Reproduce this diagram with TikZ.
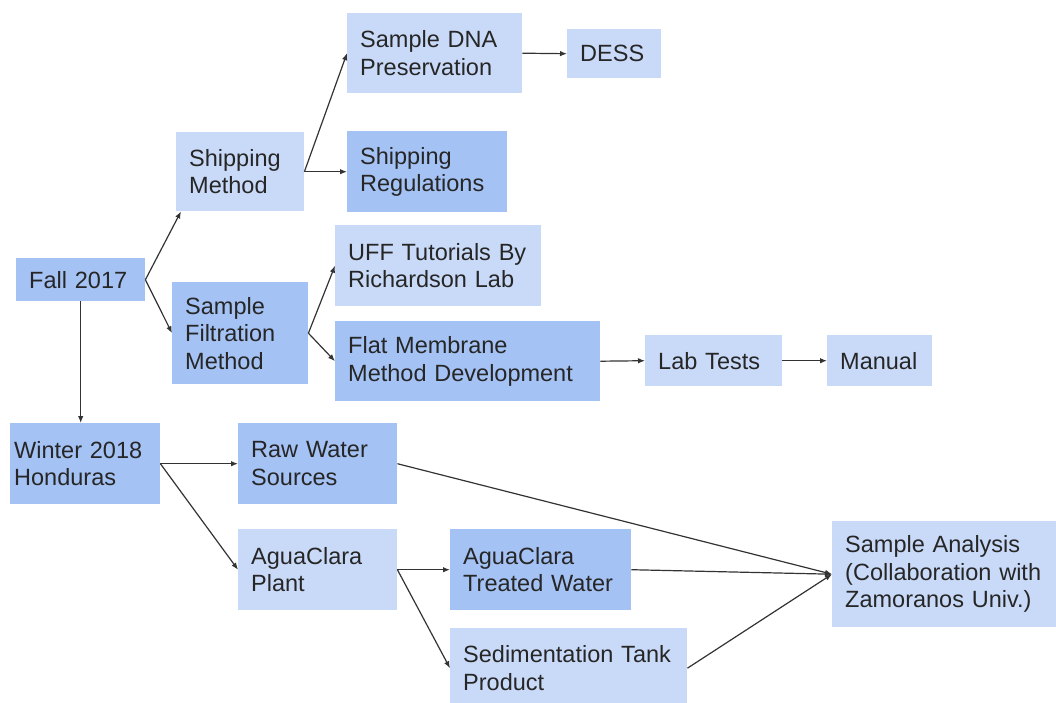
\documentclass[tikz,border=0pt]{standalone}
\usepackage{fontspec}
\setmainfont{Liberation Sans}
\usetikzlibrary{arrows.meta,calc}
\definecolor{lightbox}{HTML}{C9DAF8}
\definecolor{darkbox}{HTML}{A4C2F4}
\definecolor{txt}{HTML}{262626}
\definecolor{arr}{HTML}{333333}
\tikzset{
  bx/.style n args={3}{draw=none, fill=#3, anchor=north west, inner ysep=0pt,
    inner xsep=13pt, minimum width=#1pt, minimum height=#2pt,
    text width=#1pt-26pt, align=left, text=txt,
    font=\fontsize{23.5}{27.5}\selectfont},
  bxp/.style={inner xsep=4pt},
  conn/.style={draw=arr, line width=1.2pt, -{Latex[length=7pt,width=5.5pt]}}
}
\begin{document}
\begin{tikzpicture}[x=1pt,y=-1pt]
\clip (0,0) rectangle (1056,702);
\fill[white] (0,0) rectangle (1056,702);
\node[bx={129}{43}{darkbox}] (fall) at (16,258) {Fall 2017};
\node[bx={128}{79}{lightbox}] (ship) at (176,132) {Shipping\\Method};
\node[bx={175}{80}{lightbox}] (dna) at (347,13) {Sample DNA\\Preservation};
\node[bx={94}{49}{lightbox}] (dess) at (567,29) {DESS};
\node[bx={160}{81}{darkbox}] (regs) at (347,131) {Shipping\\Regulations};
\node[bx={206}{81}{lightbox}] (uff) at (335,225) {UFF Tutorials By\\Richardson Lab};
\node[bx={136}{102}{darkbox}] (filt) at (172,282) {Sample\\Filtration\\Method};
\node[bx={265}{80}{darkbox}] (flat) at (335,321) {Flat Membrane\\Method Development};
\node[bx={137}{51}{lightbox}] (lab) at (645,335) {Lab Tests};
\node[bx={105}{51}{lightbox}] (manual) at (827,335) {Manual};
\node[bx={150}{81}{darkbox}, inner xsep=4pt, text width=142pt] (winter) at (10,423) {Winter 2018\\Honduras};
\node[bx={159}{81}{darkbox}] (raw) at (238,423) {Raw Water\\Sources};
\node[bx={159}{81}{lightbox}] (plant) at (238,529) {AguaClara\\Plant};
\node[bx={181}{81}{darkbox}] (treated) at (450,529) {AguaClara\\Treated Water};
\node[bx={237}{80}{lightbox}] (sed) at (450,628) {Sedimentation Tank\\Product};
\node[bx={230}{106}{lightbox}] (analysis) at (832,521) {Sample Analysis\\(Collaboration with\\Zamoranos Univ.)};

\draw[conn] (fall.east) -- ($(ship.south west)+(5,0)$);
\draw[conn] (fall.east) -- (filt.west);
\draw[conn] (ship.east) -- (dna.west);
\draw[conn] (ship.east) -- (regs.west);
\draw[conn] (dna.east) -- (dess.west);
\draw[conn] (filt.east) -- (uff.west);
\draw[conn] (filt.east) -- (flat.west);
\draw[conn] (flat.east) -- (lab.west);
\draw[conn] (lab.east) -- (manual.west);
\draw[conn] (fall.south) -- (fall.south |- winter.north);
\draw[conn] (winter.east) -- (raw.west);
\draw[conn] (winter.east) -- (plant.west);
\draw[conn] (raw.east) -- (analysis.west);
\draw[conn] (plant.east) -- (treated.west);
\draw[conn] (plant.east) -- (sed.west);
\draw[conn] (treated.east) -- (analysis.west);
\draw[conn] (sed.east) -- (analysis.west);
\end{tikzpicture}
\end{document}
